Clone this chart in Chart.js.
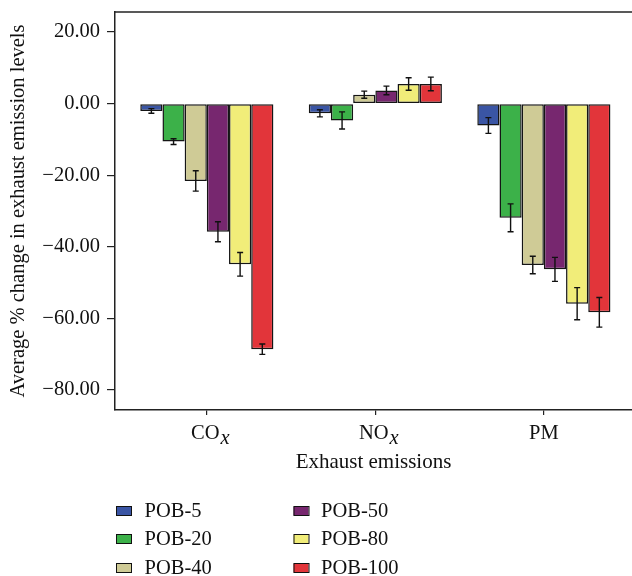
<!DOCTYPE html>
<html><head><meta charset="utf-8">
<script src="https://cdn.jsdelivr.net/npm/chart.js@4.4.1/dist/chart.umd.min.js"></script>
<style>html,body{margin:0;padding:0;background:#fff;overflow:hidden}</style>
</head><body>
<canvas id="c" width="632" height="576"></canvas>
<script>
// ---- data ----
const categories = ['CO', 'NO', 'PM'];
const categorySubscripts = ['x', 'x', ''];
const seriesNames = ['POB-5', 'POB-20', 'POB-40', 'POB-50', 'POB-80', 'POB-100'];
const pob5   = [-2.05, -2.7, -6.1];
const pob20  = [-10.6, -4.7, -31.9];
const pob40  = [-21.6,  2.5, -45.1];
const pob50  = [-35.8,  3.7, -46.3];
const pob80  = [-44.9,  5.5, -55.9];
const pob100 = [-68.6,  5.5, -58.3];
const err5   = [0.65, 1.0, 2.2];
const err20  = [0.8,  2.4, 3.9];
const err40  = [2.85, 1.0, 2.45];
const err50  = [2.8,  1.2, 3.35];
const err80  = [3.3,  1.75, 4.5];
const err100 = [1.45, 1.9, 4.15];
const yTicks = [20, 0, -20, -40, -60, -80];
const xTitle = 'Exhaust emissions';
const yTitle = 'Average % change in exhaust emission levels';

const seriesValues = [pob5, pob20, pob40, pob50, pob80, pob100];
const seriesErrors = [err5, err20, err40, err50, err80, err100];
const colors = ['#3A55A4', '#3CB149', '#CFCB96', '#77276F', '#F1ED79', '#E2353A'];
const FONT = "'Liberation Serif', 'Times New Roman', serif";
const FS = 20.5;
const AXIS = '#222';

const datasets = seriesNames.map((name, s) => ({
  label: name,
  data: seriesValues[s].map((v, i) => ({x: i, y: v})),
  errors: seriesErrors[s],
  backgroundColor: colors[s],
  borderColor: '#151515',
  borderWidth: 1.5,
  borderSkipped: false,
  categoryPercentage: 0.79,
  barPercentage: 1.0
}));

const fmt = v => (v < 0 ? '\u2212' : '') + Math.abs(v).toFixed(2);

const extras = {
  id: 'extras',
  afterDatasetsDraw(chart) {
    const ctx = chart.ctx;
    const y = chart.scales.y;
    ctx.save();
    ctx.strokeStyle = '#111';
    ctx.lineWidth = 1.4;
    chart.data.datasets.forEach((ds, di) => {
      const meta = chart.getDatasetMeta(di);
      meta.data.forEach((bar, i) => {
        const v = ds.data[i].y, e = ds.errors[i];
        const x = bar.x;
        const y1 = y.getPixelForValue(v + e), y2 = y.getPixelForValue(v - e);
        ctx.beginPath();
        ctx.moveTo(x, y1); ctx.lineTo(x, y2);
        ctx.moveTo(x - 3, y1); ctx.lineTo(x + 3, y1);
        ctx.moveTo(x - 3, y2); ctx.lineTo(x + 3, y2);
        ctx.stroke();
      });
    });
    ctx.restore();
  },
  afterDraw(chart) {
    const ctx = chart.ctx;
    const a = chart.chartArea;
    ctx.save();
    // top frame line
    ctx.strokeStyle = AXIS;
    ctx.lineWidth = 1.5;
    ctx.beginPath();
    ctx.moveTo(a.left, a.top); ctx.lineTo(chart.width, a.top);
    ctx.stroke();
    // category labels with subscript
    const xs = chart.scales.x;
    ctx.fillStyle = '#111';
    ctx.textBaseline = 'alphabetic';
    categories.forEach((c, i) => {
      const main = FS + 'px ' + FONT, sub = 'italic ' + FS + 'px ' + FONT;
      ctx.font = main;
      const w1 = ctx.measureText(c).width;
      ctx.font = sub;
      const w2 = categorySubscripts[i] ? ctx.measureText(categorySubscripts[i]).width : 0;
      const cx = xs.getPixelForValue(i) + (w2 ? 3 : 0);
      const x0 = cx - (w1 + w2) / 2;
      ctx.font = main;
      ctx.textAlign = 'left';
      ctx.fillText(c, x0, 439);
      if (w2) { ctx.font = sub; ctx.fillText(categorySubscripts[i], x0 + w1 + 1, 444); }
    });
    // legend: 2 columns, column-major
    const colBox = [116, 293.5], colText = [144.5, 321], rows = [511, 539, 568];
    ctx.font = FS + 'px ' + FONT;
    ctx.textAlign = 'left';
    ctx.textBaseline = 'middle';
    chart.data.datasets.forEach((ds, i) => {
      const col = Math.floor(i / 3), row = i % 3;
      const bx = colBox[col], by = rows[row];
      ctx.fillStyle = ds.backgroundColor;
      ctx.fillRect(bx, by - 4.5, 15, 9);
      ctx.strokeStyle = '#111';
      ctx.lineWidth = 1;
      ctx.strokeRect(bx + 0.5, by - 4.5, 15, 9);
      ctx.fillStyle = '#111';
      ctx.fillText(ds.label, colText[col], by + 1);
    });
    ctx.restore();
  }
};

new Chart(document.getElementById('c'), {
  type: 'bar',
  data: { datasets },
  options: {
    responsive: false,
    animation: false,
    devicePixelRatio: 1,
    layout: { padding: { top: 12, left: 0, right: 0, bottom: 0 } },
    plugins: { legend: { display: false }, tooltip: { enabled: false } },
    scales: {
      x: {
        type: 'linear',
        offset: false,
        min: -0.545,
        max: 2.523,
        afterFit: s => { s.height = 166; s.paddingLeft = 0; s.paddingRight = 0; },
        afterBuildTicks: s => { s.ticks = categories.map((c, i) => ({value: i})); },
        ticks: { includeBounds: false, stepSize: 1, callback: () => '', font: {family: FONT, size: FS} },
        grid: { offset: false, drawOnChartArea: false, drawTicks: true, tickLength: 5, color: AXIS, lineWidth: 1.2 },
        border: { display: true, color: AXIS, width: 1.5 },
        title: { display: true, text: xTitle, color: '#111', font: {family: FONT, size: 21}, padding: {top: 0, bottom: 101} }
      },
      y: {
        min: -85.6,
        max: 25.6,
        afterFit: s => { s.width = 115; s.paddingTop = 0; s.paddingBottom = 0; },
        afterBuildTicks: s => { s.ticks = yTicks.map(v => ({value: v})); },
        ticks: { includeBounds: false, stepSize: 20, padding: 7, color: '#111', font: {family: FONT, size: FS}, callback: v => fmt(v) },
        grid: { drawOnChartArea: false, drawTicks: true, tickLength: 8, color: AXIS, lineWidth: 1.2 },
        border: { display: true, color: AXIS, width: 1.5 },
        title: { display: true, text: yTitle, color: '#111', font: {family: FONT, size: 20.5}, padding: {top: 6, bottom: 0} }
      }
    }
  },
  plugins: [extras]
});
</script>
</body></html>
